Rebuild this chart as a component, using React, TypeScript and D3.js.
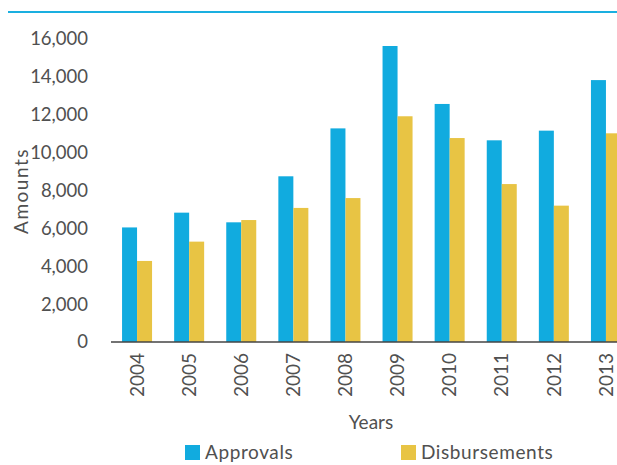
import * as d3 from "d3";
import {useRef, useEffect} from "react";

const years = ["2004", "2005", "2006", "2007", "2008", "2009", "2010", "2011", "2012", "2013"];
const approvals = [6050, 6830, 6320, 8750, 11280, 15630, 12570, 10650, 11160, 13830];
const disbursements = [4280, 5300, 6440, 7080, 7600, 11920, 10770, 8340, 7200, 11020];
const yTicks = [0, 2000, 4000, 6000, 8000, 10000, 12000, 14000, 16000];
const seriesNames = ["Approvals", "Disbursements"];
const colors = ["#11abdf", "#e8c444"];

const FONT = "Lato, 'Open Sans', sans-serif";
const TEXT = "#505050";

function Chart() {
    const svgRef = useRef(null);

    useEffect(() => {
        const svg = d3.select(svgRef.current);
        svg.selectAll("*").remove();

        const x = d3.scaleBand()
            .domain(years)
            .range([111, 632])
            .padding(0);

        const y = d3.scaleLinear()
            .domain([0, 16000])
            .range([342, 39]);

        const barW = 15;

        // top rule
        svg.append("line")
            .attr("x1", 8).attr("x2", 617)
            .attr("y1", 12).attr("y2", 12)
            .attr("stroke", "#1aafe0")
            .attr("stroke-width", 2);

        // y tick labels
        svg.append("g")
            .selectAll("text")
            .data(yTicks)
            .enter()
            .append("text")
            .attr("x", 88)
            .attr("y", d => y(d))
            .attr("dy", "0.35em")
            .attr("text-anchor", "end")
            .attr("font-family", FONT)
            .attr("font-size", 18.5)
            .attr("fill", TEXT)
            .text(d => d3.format(",")(d));

        const groups = [approvals, disbursements];
        groups.forEach((vals, si) => {
            svg.append("g")
                .selectAll("rect")
                .data(vals)
                .enter()
                .append("rect")
                .attr("x", (d, i) => x(years[i]) + x.bandwidth() / 2 - barW + si * barW)
                .attr("y", d => y(d))
                .attr("width", barW)
                .attr("height", d => y(0) - y(d))
                .attr("fill", colors[si]);
        });

        // baseline
        svg.append("line")
            .attr("x1", 111).attr("x2", 617)
            .attr("y1", y(0)).attr("y2", y(0))
            .attr("stroke", "#444")
            .attr("stroke-width", 1.5);

        // x labels, rotated
        svg.append("g")
            .selectAll("text")
            .data(years)
            .enter()
            .append("text")
            .attr("transform", d => `translate(${x(d) + x.bandwidth() / 2},353) rotate(-90)`)
            .attr("dy", "0.35em")
            .attr("text-anchor", "end")
            .attr("font-family", FONT)
            .attr("font-size", 19)
            .attr("fill", TEXT)
            .text(d => d);

        svg.append("text")
            .attr("x", 371)
            .attr("y", 429)
            .attr("text-anchor", "middle")
            .attr("font-family", FONT)
            .attr("font-size", 19)
            .attr("fill", TEXT)
            .text("Years");

        svg.append("text")
            .attr("transform", "translate(28,191) rotate(-90)")
            .attr("text-anchor", "middle")
            .attr("font-family", FONT)
            .attr("font-size", 19)
            .attr("letter-spacing", 1.5)
            .attr("fill", TEXT)
            .text("Amounts");

        // legend
        const legendX = [185, 401];
        seriesNames.forEach((name, i) => {
            svg.append("rect")
                .attr("x", legendX[i]).attr("y", 445)
                .attr("width", 15).attr("height", 15)
                .attr("fill", colors[i]);
            svg.append("text")
                .attr("x", legendX[i] + 20)
                .attr("y", 459)
                .attr("font-family", FONT)
                .attr("font-size", 19)
                .attr("letter-spacing", 0.6)
                .attr("fill", TEXT)
                .text(name);
        });
    }, []);

    return (
        <svg ref={svgRef} width={617} height={465} style={{display: "block"}}></svg>
    );
}

export default function App() {
    return (
        <div style={{position: "absolute", left: 0, top: 0}}>
            <Chart/>
        </div>
    );
}
